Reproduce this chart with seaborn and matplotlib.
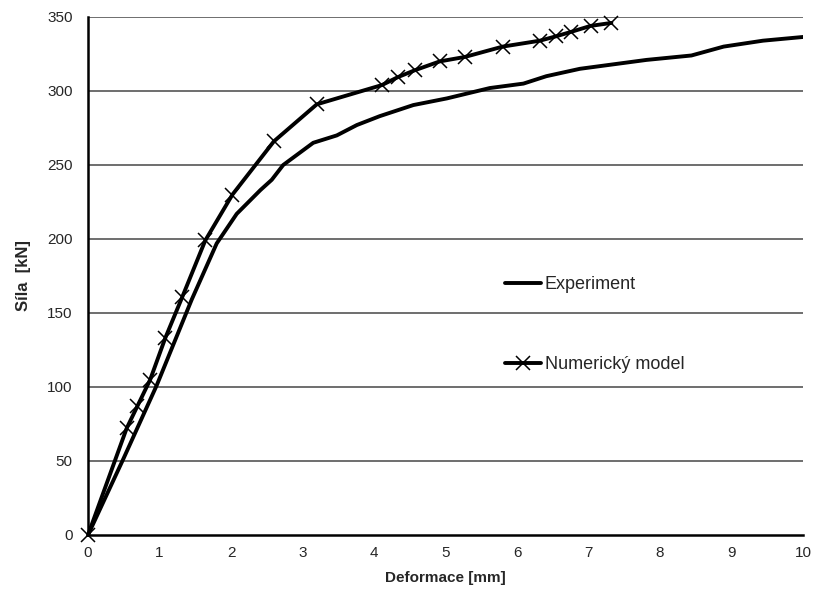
import matplotlib
matplotlib.use("Agg")
import matplotlib.pyplot as plt
import seaborn as sns
import pandas as pd

exp_x = [0, 0.5, 0.96, 1.45, 1.80, 2.08, 2.41, 2.57, 2.73, 3.15, 3.48, 3.76, 4.08, 4.55,
         5.02, 5.62, 6.09, 6.41, 6.88, 7.81, 8.44, 8.89, 9.44, 10.0]
exp_y = [0, 52, 101, 159, 197, 217, 233, 240, 250, 265, 270, 277, 283, 290.5,
         295, 302, 305, 310, 315, 321, 324, 330, 334, 336.5]

mod_x = [0, 0.54, 0.69, 0.87, 1.08, 1.32, 1.64, 2.02, 2.60, 3.20, 4.11, 4.34, 4.57,
         4.92, 5.27, 5.80, 6.32, 6.55, 6.76, 7.03, 7.32]
mod_y = [0, 72, 87, 105, 133, 161, 199, 230, 266, 291, 304, 309.5, 314,
         320, 323, 330, 334, 337, 340, 344, 346]

x_ticks = list(range(0, 11))
y_ticks = list(range(0, 351, 50))

sns.set_style("white")
plt.rcParams['font.family'] = ['Liberation Sans', 'DejaVu Sans']

df_exp = pd.DataFrame({"x": exp_x, "y": exp_y})
df_mod = pd.DataFrame({"x": mod_x, "y": mod_y})

fig = plt.figure(figsize=(8.13, 5.99), dpi=100)
ax = fig.add_axes([88/813, 1-535/599, 715/813, 518/599])

for yv in y_ticks[1:]:
    ax.axhline(yv, color="#555555", lw=1.2, zorder=1)

sns.lineplot(data=df_exp, x="x", y="y", sort=False, ax=ax, color="black", lw=2.8,
             label="Experiment", zorder=3)
sns.lineplot(data=df_mod, x="x", y="y", sort=False, ax=ax, color="black", lw=2.8,
             marker="x", markersize=10, markeredgewidth=1.1, markeredgecolor="black",
             label="Numerický model", zorder=4, clip_on=False)

ax.set_xlim(0, 10)
ax.set_ylim(0, 350)
ax.set_xticks(x_ticks)
ax.set_yticks(y_ticks)
ax.tick_params(axis="x", direction="out", length=5, width=1, color="black", labelsize=11, pad=3)
ax.tick_params(axis="y", length=0, labelsize=11, pad=11)
for s in ["top", "right"]:
    ax.spines[s].set_visible(False)
for s in ["left", "bottom"]:
    ax.spines[s].set_color("black")
    ax.spines[s].set_linewidth(1.8)

ax.set_xlabel("Deformace [mm]", fontsize=11, fontweight="bold", labelpad=8)
ax.set_ylabel("Síla  [kN]", fontsize=12, fontweight="bold", labelpad=12)

leg = ax.legend(loc="upper left", bbox_to_anchor=(0.583, 0.50), frameon=False,
                borderpad=0, borderaxespad=0, handlelength=2.0, handletextpad=0.2,
                labelspacing=3.5, fontsize=13)

fig.savefig("out.png", dpi=100)
